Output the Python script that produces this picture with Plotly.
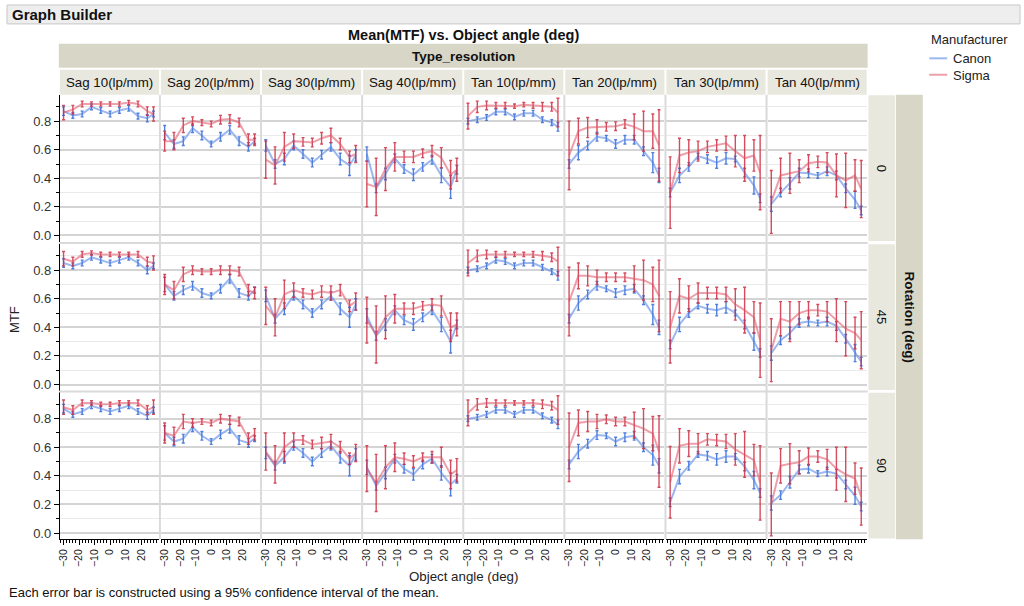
import plotly.graph_objects as go

# ---------------- data ----------------
object_angle = [-30, -24, -18, -12, -6, 0, 6, 12, 18, 24, 28]
type_resolution = ["Sag 10(lp/mm)", "Sag 20(lp/mm)", "Sag 30(lp/mm)", "Sag 40(lp/mm)",
                   "Tan 10(lp/mm)", "Tan 20(lp/mm)", "Tan 30(lp/mm)", "Tan 40(lp/mm)"]
rotation = ["0", "45", "90"]
manufacturers = ["Canon", "Sigma"]

canon_rot0 = [
    [0.87, 0.84, 0.85, 0.90, 0.875, 0.85, 0.875, 0.89, 0.835, 0.82, 0.85],
    [0.72, 0.64, 0.66, 0.75, 0.70, 0.64, 0.69, 0.74, 0.66, 0.62, 0.66],
    [0.63, 0.50, 0.535, 0.63, 0.57, 0.51, 0.565, 0.62, 0.535, 0.49, 0.56],
    [0.57, 0.33, 0.43, 0.54, 0.465, 0.425, 0.48, 0.53, 0.42, 0.34, 0.46],
    [0.80, 0.81, 0.825, 0.865, 0.865, 0.83, 0.855, 0.855, 0.81, 0.79, 0.76],
    [0.50, 0.58, 0.63, 0.69, 0.68, 0.64, 0.67, 0.67, 0.59, 0.51, 0.42],
    [0.30, 0.42, 0.48, 0.555, 0.535, 0.51, 0.54, 0.535, 0.44, 0.35, 0.26],
    [0.22, 0.30, 0.365, 0.44, 0.435, 0.42, 0.45, 0.42, 0.33, 0.25, 0.175],
]
sigma_rot0 = [
    [0.86, 0.88, 0.92, 0.92, 0.92, 0.92, 0.92, 0.93, 0.92, 0.87, 0.85],
    [0.66, 0.66, 0.77, 0.80, 0.79, 0.78, 0.81, 0.815, 0.79, 0.67, 0.67],
    [0.53, 0.49, 0.62, 0.66, 0.655, 0.65, 0.68, 0.70, 0.64, 0.55, 0.57],
    [0.36, 0.34, 0.465, 0.55, 0.55, 0.55, 0.575, 0.59, 0.545, 0.425, 0.46],
    [0.835, 0.90, 0.91, 0.91, 0.91, 0.905, 0.915, 0.91, 0.90, 0.90, 0.86],
    [0.56, 0.73, 0.755, 0.76, 0.76, 0.765, 0.78, 0.76, 0.73, 0.73, 0.63],
    [0.30, 0.56, 0.58, 0.59, 0.62, 0.63, 0.645, 0.59, 0.54, 0.56, 0.44],
    [0.235, 0.42, 0.435, 0.45, 0.505, 0.515, 0.51, 0.42, 0.385, 0.42, 0.325],
]
canon_rot45 = [
    [0.85, 0.83, 0.85, 0.89, 0.87, 0.85, 0.87, 0.89, 0.85, 0.80, 0.83],
    [0.70, 0.62, 0.66, 0.69, 0.64, 0.62, 0.67, 0.74, 0.64, 0.62, 0.66],
    [0.62, 0.46, 0.53, 0.62, 0.56, 0.50, 0.56, 0.62, 0.53, 0.47, 0.56],
    [0.48, 0.34, 0.42, 0.52, 0.45, 0.42, 0.47, 0.52, 0.42, 0.30, 0.42],
    [0.80, 0.81, 0.83, 0.87, 0.86, 0.83, 0.85, 0.85, 0.82, 0.79, 0.76],
    [0.46, 0.57, 0.63, 0.69, 0.67, 0.64, 0.66, 0.67, 0.59, 0.49, 0.40],
    [0.28, 0.42, 0.50, 0.55, 0.53, 0.52, 0.54, 0.50, 0.42, 0.30, 0.22],
    [0.22, 0.31, 0.36, 0.43, 0.44, 0.43, 0.44, 0.41, 0.32, 0.22, 0.16],
]
sigma_rot45 = [
    [0.88, 0.86, 0.91, 0.92, 0.91, 0.91, 0.91, 0.91, 0.91, 0.86, 0.85],
    [0.70, 0.66, 0.77, 0.80, 0.79, 0.79, 0.80, 0.80, 0.79, 0.66, 0.64],
    [0.55, 0.47, 0.63, 0.66, 0.64, 0.63, 0.65, 0.64, 0.66, 0.55, 0.58],
    [0.45, 0.35, 0.47, 0.53, 0.53, 0.53, 0.55, 0.56, 0.55, 0.40, 0.42],
    [0.85, 0.90, 0.91, 0.91, 0.91, 0.91, 0.91, 0.91, 0.90, 0.89, 0.86],
    [0.58, 0.76, 0.76, 0.75, 0.75, 0.75, 0.75, 0.74, 0.73, 0.70, 0.62],
    [0.40, 0.62, 0.60, 0.64, 0.64, 0.64, 0.63, 0.56, 0.52, 0.47, 0.31],
    [0.24, 0.46, 0.44, 0.50, 0.52, 0.52, 0.51, 0.45, 0.39, 0.36, 0.31],
]
canon_rot90 = [
    [0.87, 0.83, 0.85, 0.89, 0.87, 0.85, 0.87, 0.89, 0.85, 0.82, 0.86],
    [0.70, 0.64, 0.66, 0.74, 0.68, 0.64, 0.69, 0.73, 0.65, 0.63, 0.66],
    [0.56, 0.47, 0.53, 0.61, 0.56, 0.50, 0.56, 0.61, 0.53, 0.47, 0.55],
    [0.46, 0.33, 0.42, 0.52, 0.45, 0.41, 0.48, 0.52, 0.42, 0.34, 0.38],
    [0.80, 0.81, 0.83, 0.86, 0.86, 0.83, 0.86, 0.86, 0.82, 0.79, 0.76],
    [0.48, 0.57, 0.625, 0.685, 0.68, 0.64, 0.67, 0.68, 0.60, 0.545, 0.47],
    [0.215, 0.395, 0.47, 0.55, 0.54, 0.515, 0.535, 0.535, 0.465, 0.37, 0.28],
    [0.21, 0.265, 0.355, 0.445, 0.45, 0.415, 0.43, 0.415, 0.34, 0.26, 0.185],
]
sigma_rot90 = [
    [0.88, 0.86, 0.91, 0.91, 0.90, 0.90, 0.91, 0.91, 0.91, 0.86, 0.88],
    [0.70, 0.68, 0.78, 0.77, 0.78, 0.77, 0.80, 0.79, 0.78, 0.66, 0.69],
    [0.57, 0.48, 0.60, 0.65, 0.65, 0.62, 0.63, 0.64, 0.60, 0.52, 0.56],
    [0.45, 0.35, 0.46, 0.53, 0.52, 0.50, 0.53, 0.53, 0.53, 0.41, 0.44],
    [0.84, 0.90, 0.91, 0.91, 0.91, 0.91, 0.91, 0.91, 0.90, 0.89, 0.86],
    [0.60, 0.77, 0.78, 0.78, 0.795, 0.78, 0.78, 0.755, 0.73, 0.695, 0.57],
    [0.355, 0.61, 0.625, 0.625, 0.655, 0.65, 0.64, 0.585, 0.55, 0.51, 0.35],
    [0.20, 0.47, 0.485, 0.495, 0.535, 0.535, 0.515, 0.45, 0.41, 0.38, 0.255],
]
# half-width of the 95% confidence interval
canon_ci = [
    [0.03, 0.02, 0.02, 0.02, 0.02, 0.02, 0.02, 0.02, 0.02, 0.025, 0.02],
    [0.05, 0.03, 0.03, 0.03, 0.03, 0.02, 0.03, 0.03, 0.03, 0.03, 0.02],
    [0.04, 0.03, 0.04, 0.03, 0.03, 0.03, 0.03, 0.03, 0.04, 0.07, 0.04],
    [0.05, 0.03, 0.04, 0.03, 0.03, 0.04, 0.03, 0.03, 0.05, 0.08, 0.03],
    [0.02, 0.02, 0.02, 0.02, 0.02, 0.02, 0.02, 0.02, 0.02, 0.02, 0.03],
    [0.03, 0.05, 0.03, 0.03, 0.02, 0.03, 0.03, 0.03, 0.03, 0.07, 0.05],
    [0.03, 0.05, 0.03, 0.02, 0.03, 0.04, 0.04, 0.02, 0.03, 0.06, 0.03],
    [0.05, 0.03, 0.04, 0.03, 0.03, 0.02, 0.03, 0.03, 0.03, 0.06, 0.03],
]
sigma_ci = [
    [0.05, 0.03, 0.02, 0.015, 0.015, 0.015, 0.015, 0.015, 0.02, 0.03, 0.05],
    [0.07, 0.06, 0.05, 0.03, 0.02, 0.02, 0.03, 0.03, 0.03, 0.04, 0.04],
    [0.13, 0.13, 0.10, 0.05, 0.03, 0.03, 0.04, 0.05, 0.04, 0.04, 0.06],
    [0.16, 0.20, 0.15, 0.10, 0.04, 0.04, 0.03, 0.04, 0.07, 0.10, 0.08],
    [0.09, 0.04, 0.03, 0.02, 0.02, 0.015, 0.015, 0.02, 0.03, 0.03, 0.10],
    [0.24, 0.09, 0.07, 0.05, 0.03, 0.03, 0.03, 0.09, 0.14, 0.12, 0.25],
    [0.25, 0.12, 0.09, 0.07, 0.04, 0.04, 0.05, 0.11, 0.16, 0.11, 0.26],
    [0.22, 0.12, 0.14, 0.08, 0.06, 0.04, 0.07, 0.15, 0.19, 0.11, 0.20],
]

canon_by_rot = [canon_rot0, canon_rot45, canon_rot90]
sigma_by_rot = [sigma_rot0, sigma_rot45, sigma_rot90]

# ---------------- layout helpers ----------------
W, H = 1024, 606
FONT = "Liberation Sans, Arial, sans-serif"
def px(x): return x / W
def py(y): return 1 - y / H

COL_X0, COL_W = 56.0, 101.4
ROW_Y0 = [95.0, 244.5, 393.5]
ROW_H = 147.3
YR = [-0.042, 0.985]
XR = [-32.4, 31.5]

line_col = {"Canon": "rgba(75,125,225,0.55)", "Sigma": "rgba(222,80,100,0.55)"}
bar_col = {"Canon": "rgba(50,105,215,0.85)", "Sigma": "rgba(205,45,65,0.85)"}

fig = go.Figure()
layout = dict(width=W, height=H, margin=dict(l=0, r=0, t=0, b=0),
              paper_bgcolor="white", plot_bgcolor="white", showlegend=False,
              font=dict(family=FONT, size=13, color="#222"))

for r in range(3):
    for c in range(8):
        idx = r * 8 + c + 1
        xn = "x" if idx == 1 else f"x{idx}"
        yn = "y" if idx == 1 else f"y{idx}"
        xk = "xaxis" if idx == 1 else f"xaxis{idx}"
        yk = "yaxis" if idx == 1 else f"yaxis{idx}"
        x0 = COL_X0 + c * COL_W
        x1 = x0 + COL_W
        y0 = ROW_Y0[r]
        y1 = y0 + ROW_H
        bottom = (r == 2)
        left = (c == 0)
        layout[xk] = dict(domain=[px(x0 + 1), px(x1 - 1)], anchor=yn, range=XR,
                          showgrid=False, zeroline=False,
                          showline=bottom, linecolor="black", linewidth=1,
                          tickvals=[-30, -20, -10, 0, 10, 20] if bottom else [],
                          ticks="outside" if bottom else "", ticklen=5, tickcolor="black",
                          tickangle=-90, tickfont=dict(size=10.5, color="#222"),
                          showticklabels=bottom,
                          minor=dict(dtick=2, tick0=0, ticks="outside" if bottom else "",
                                     ticklen=3, tickcolor="black", showgrid=False))
        layout[yk] = dict(domain=[py(y1), py(y0)], anchor=xn, range=YR,
                          zeroline=False, showgrid=True, gridcolor="rgb(212,212,212)", gridwidth=1.6,
                          tickvals=[0, 0.2, 0.4, 0.6, 0.8],
                          ticktext=["0.0", "0.2", "0.4", "0.6", "0.8"],
                          showticklabels=left, ticks="outside" if left else "",
                          ticklen=5, tickcolor="black",
                          tickfont=dict(size=13, color="#333"),
                          showline=left, linecolor="black", linewidth=1,
                          minor=dict(dtick=0.1, tick0=0, ticks="outside" if left else "",
                                     ticklen=3, tickcolor="black", showgrid=True,
                                     gridcolor="rgb(234,234,234)", gridwidth=1))
        for name, data, ci in (("Canon", canon_by_rot[r][c], canon_ci[c]),
                               ("Sigma", sigma_by_rot[r][c], sigma_ci[c])):
            fig.add_trace(go.Scatter(
                x=object_angle, y=data, mode="lines", name=name,
                xaxis=xn, yaxis=yn,
                line=dict(color=line_col[name], width=2),
                error_y=dict(type="data", array=ci, visible=True,
                             color=bar_col[name], thickness=1.4, width=1.5)))

shapes = []
annotations = []

# Graph Builder bar
shapes.append(dict(type="rect", xref="paper", yref="paper", x0=px(4), x1=px(1020),
                   y0=py(24), y1=py(5), fillcolor="rgb(238,238,238)",
                   line=dict(color="rgb(200,200,200)", width=1), layer="below"))
annotations.append(dict(text="<b>Graph Builder</b>", x=px(7), y=py(14.5), xref="paper", yref="paper",
                        xanchor="left", yanchor="middle", showarrow=False,
                        font=dict(size=15, color="#111")))
# Title
annotations.append(dict(text="<b>Mean(MTF) vs. Object angle (deg)</b>", x=px(462), y=py(35),
                        xref="paper", yref="paper", xanchor="center", yanchor="middle",
                        showarrow=False, font=dict(size=14.5, color="#111")))
# Type_resolution band
BAND = "rgb(216,215,199)"
CELL = "rgb(233,232,223)"
x_end = COL_X0 + 8 * COL_W
shapes.append(dict(type="rect", xref="paper", yref="paper", x0=px(COL_X0), x1=px(x_end),
                   y0=py(68), y1=py(44), fillcolor=BAND, line=dict(width=0), layer="below"))
annotations.append(dict(text="<b>Type_resolution</b>", x=px((COL_X0 + x_end) / 2), y=py(56.5),
                        xref="paper", yref="paper", xanchor="center", yanchor="middle",
                        showarrow=False, font=dict(size=13.5, color="#111")))
for c, lab in enumerate(type_resolution):
    x0 = COL_X0 + c * COL_W
    shapes.append(dict(type="rect", xref="paper", yref="paper", x0=px(x0 + 1), x1=px(x0 + COL_W - 1),
                       y0=py(95), y1=py(70), fillcolor=CELL, line=dict(width=0), layer="below"))
    annotations.append(dict(text=lab, x=px(x0 + COL_W / 2), y=py(82.5), xref="paper", yref="paper",
                            xanchor="center", yanchor="middle", showarrow=False,
                            font=dict(size=13.3, color="#111")))
# Column separators and row separators
for c in range(1, 8):
    xs = COL_X0 + c * COL_W
    shapes.append(dict(type="line", xref="paper", yref="paper", x0=px(xs), x1=px(xs),
                       y0=py(541), y1=py(95), line=dict(color="rgb(218,218,218)", width=2)))
for r in range(1, 3):
    ys = ROW_Y0[r] - 0.8
    shapes.append(dict(type="line", xref="paper", yref="paper", x0=px(COL_X0), x1=px(x_end),
                       y0=py(ys), y1=py(ys), line=dict(color="rgb(218,218,218)", width=2)))
# Right strips
for r, lab in enumerate(rotation):
    y0 = ROW_Y0[r]
    shapes.append(dict(type="rect", xref="paper", yref="paper", x0=px(868), x1=px(894.5),
                       y0=py(y0 + ROW_H - 0.5), y1=py(y0 + 0.5), fillcolor=CELL,
                       line=dict(width=0), layer="below"))
    annotations.append(dict(text=lab, x=px(881), y=py(y0 + ROW_H / 2), xref="paper", yref="paper",
                            xanchor="center", yanchor="middle", showarrow=False, textangle=90,
                            font=dict(size=13, color="#111")))
shapes.append(dict(type="rect", xref="paper", yref="paper", x0=px(895.5), x1=px(922.5),
                   y0=py(541), y1=py(95), fillcolor=BAND, line=dict(width=0), layer="below"))
annotations.append(dict(text="<b>Rotation (deg)</b>", x=px(909), y=py(318), xref="paper", yref="paper",
                        xanchor="center", yanchor="middle", showarrow=False, textangle=90,
                        font=dict(size=13.5, color="#111")))
# Axis titles and footnote
annotations.append(dict(text="MTF", x=px(12), y=py(320), xref="paper", yref="paper",
                        xanchor="center", yanchor="middle", showarrow=False, textangle=-90,
                        font=dict(size=13, color="#222")))
annotations.append(dict(text="Object angle (deg)", x=px(462), y=py(578), xref="paper", yref="paper",
                        xanchor="center", yanchor="middle", showarrow=False,
                        font=dict(size=13.3, color="#222")))
annotations.append(dict(text="Each error bar is constructed using a 95% confidence interval of the mean.",
                        x=px(4), y=py(594), xref="paper", yref="paper",
                        xanchor="left", yanchor="middle", showarrow=False,
                        font=dict(size=13, color="#111")))
# Legend
annotations.append(dict(text="Manufacturer", x=px(929), y=py(40), xref="paper", yref="paper",
                        xanchor="left", yanchor="middle", showarrow=False,
                        font=dict(size=13, color="#222")))
for i, name in enumerate(manufacturers):
    yy = 58.5 + i * 16.5
    shapes.append(dict(type="line", xref="paper", yref="paper", x0=px(929), x1=px(947),
                       y0=py(yy), y1=py(yy), line=dict(color=line_col[name], width=2)))
    annotations.append(dict(text=name, x=px(950.5), y=py(yy + 0.5), xref="paper", yref="paper",
                            xanchor="left", yanchor="middle", showarrow=False,
                            font=dict(size=13, color="#222")))

layout["shapes"] = shapes
layout["annotations"] = annotations
fig.update_layout(**layout)
fig.write_html("out.html", config={"displayModeBar": False},
               post_script="document.body.style.margin='0';document.body.style.overflow='hidden';")
